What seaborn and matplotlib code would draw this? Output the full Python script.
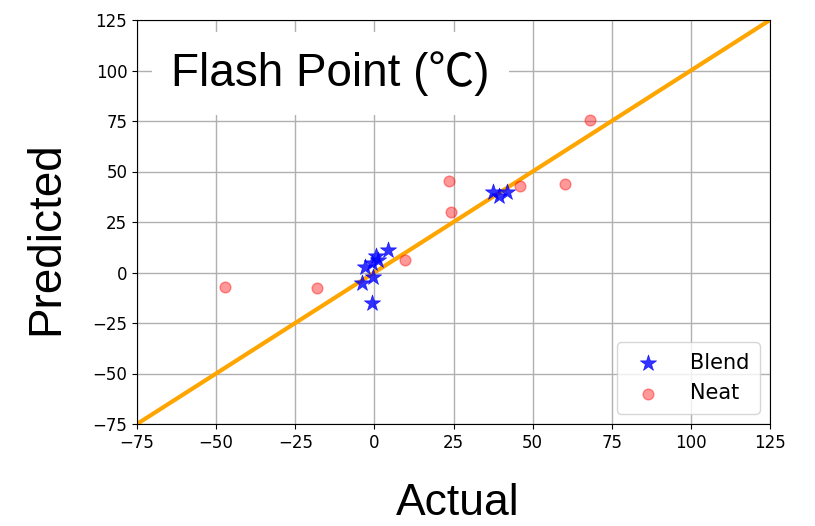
import matplotlib
matplotlib.use("Agg")
import matplotlib.pyplot as plt
import seaborn as sns
import pandas as pd

blend_actual = [4.2, 0.5, 1.0, -0.8, -3.0, -0.5, -3.9, -0.9, 37.4, 39.5, 41.8]
blend_pred = [11.1, 8.2, 6.2, 4.5, 2.6, -2.1, -5.4, -15.3, 39.7, 38.0, 39.7]
neat_actual = [68.1, 23.6, 24.2, 9.7, -47.2, -18.1, 46.1, 60.2]
neat_pred = [75.5, 45.3, 29.9, 6.2, -7.2, -7.7, 43.0, 44.0]
ticks = [-75, -50, -25, 0, 25, 50, 75, 100, 125]
line_ends = [-75, 125]

df = pd.DataFrame({
    "Actual": blend_actual + neat_actual,
    "Predicted": blend_pred + neat_pred,
    "Type": ["Blend"] * len(blend_actual) + ["Neat"] * len(neat_actual),
})

fig = plt.figure(figsize=(8.15, 5.26), dpi=100)
ax = fig.add_axes([137 / 815, 1 - 424 / 526, (770 - 137) / 815, (424 - 20) / 526])
ax.set_axisbelow(True)
ax.grid(True, color="#b0b0b0", linewidth=1.0)

ax.plot(line_ends, line_ends, color="orange", linewidth=3, zorder=2)

sns.scatterplot(data=df[df.Type == "Blend"], x="Actual", y="Predicted", ax=ax,
                marker="*", color="blue", alpha=0.8, s=150, edgecolor="blue",
                linewidth=0.5, label="Blend", zorder=3)
sns.scatterplot(data=df[df.Type == "Neat"], x="Actual", y="Predicted", ax=ax,
                marker="o", color="red", alpha=0.4, s=60, edgecolor="red",
                linewidth=1, label="Neat", zorder=3)

ax.set_xlim(-75, 125)
ax.set_ylim(-75, 125)
ax.set_xticks(ticks)
ax.set_yticks(ticks)
ax.tick_params(labelsize=12)
ax.set_xlabel("Actual", fontsize=32, family="Liberation Sans")
ax.set_ylabel("Predicted", fontsize=33, family="Liberation Sans")
ax.xaxis.set_label_coords(0.507, -0.145)
ax.yaxis.set_label_coords(-0.108, 0.46)

ax.text(-13.9, 92.3, "Flash Point (℃)", fontsize=33,
        family=["Liberation Sans", "Noto Sans CJK SC"], va="baseline", ha="center",
        bbox=dict(facecolor="white", edgecolor="none", pad=14), zorder=4)

ax.legend(loc="lower right", fontsize=15, frameon=True, handletextpad=1.0,
          borderpad=0.5)

fig.savefig("out.png", dpi=100)
